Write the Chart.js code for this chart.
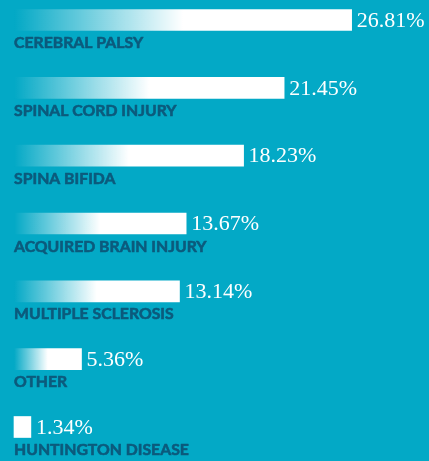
<!DOCTYPE html>
<html>
<head>
<meta charset="utf-8">
<script src="https://cdn.jsdelivr.net/npm/chart.js@4"></script>
<style>
  html, body { margin: 0; padding: 0; background: #03A9C6; }
  #wrap { width: 429px; height: 461px; position: relative; }
</style>
</head>
<body>
<div id="wrap"><canvas id="c"></canvas></div>
<script>
const categories = ["CEREBRAL PALSY", "SPINAL CORD INJURY", "SPINA BIFIDA", "ACQUIRED BRAIN INJURY", "MULTIPLE SCLEROSIS", "OTHER", "HUNTINGTON DISEASE"];
const values = [26.81, 21.45, 18.23, 13.67, 13.14, 5.36, 1.34];
const valueLabels = ["26.81%", "21.45%", "18.23%", "13.67%", "13.14%", "5.36%", "1.34%"];

const LABEL_COLOR = '#0C5A7C';

function barGradient(ctx) {
  const chart = ctx.chart;
  if (!chart.chartArea || !chart.scales.x) return '#ffffff';
  const xs = chart.scales.x;
  const x0 = xs.getPixelForValue(0);
  const x1 = xs.getPixelForValue(values[ctx.dataIndex]);
  if (x1 - x0 < 30) return '#ffffff';
  const g = chart.ctx.createLinearGradient(x0, 0, x1, 0);
  g.addColorStop(0, 'rgba(255,255,255,0)');
  g.addColorStop(0.5, 'rgba(255,255,255,1)');
  g.addColorStop(1, 'rgba(255,255,255,1)');
  return g;
}

const labelPlugin = {
  id: 'labels',
  afterDatasetsDraw(chart) {
    const c = chart.ctx;
    const meta = chart.getDatasetMeta(0);
    c.save();
    meta.data.forEach((bar, i) => {
      const p = bar.getProps(['x', 'y', 'base', 'height'], true);
      c.fillStyle = '#ffffff';
      c.font = '22px "Liberation Serif", serif';
      c.textAlign = 'left';
      c.textBaseline = 'middle';
      c.fillText(valueLabels[i], p.x + 5, p.y + 1);
      c.fillStyle = LABEL_COLOR;
      c.strokeStyle = LABEL_COLOR;
      c.lineWidth = 0.6;
      c.lineJoin = 'round';
      c.font = 'bold 15.8px Lato, sans-serif';
      c.textBaseline = 'alphabetic';
      const ty = p.y + p.height / 2 + 17.5;
      c.fillText(categories[i], p.base, ty);
      c.strokeText(categories[i], p.base, ty);
    });
    c.restore();
  }
};

new Chart(document.getElementById('c'), {
  type: 'bar',
  data: {
    labels: categories,
    datasets: [{
      data: values,
      backgroundColor: barGradient,
      borderWidth: 0,
      barThickness: 21,
      clip: false
    }]
  },
  options: {
    indexAxis: 'y',
    responsive: true,
    maintainAspectRatio: false,
    animation: false,
    layout: { padding: { left: 14, right: 12, top: 20, bottom: 34 } },
    plugins: { legend: { display: false }, tooltip: { enabled: false } },
    scales: {
      x: { display: false, min: 0, max: 32, grid: { display: false } },
      y: { display: false, offset: false, grid: { display: false } }
    }
  },
  plugins: [labelPlugin]
});
</script>
</body>
</html>
